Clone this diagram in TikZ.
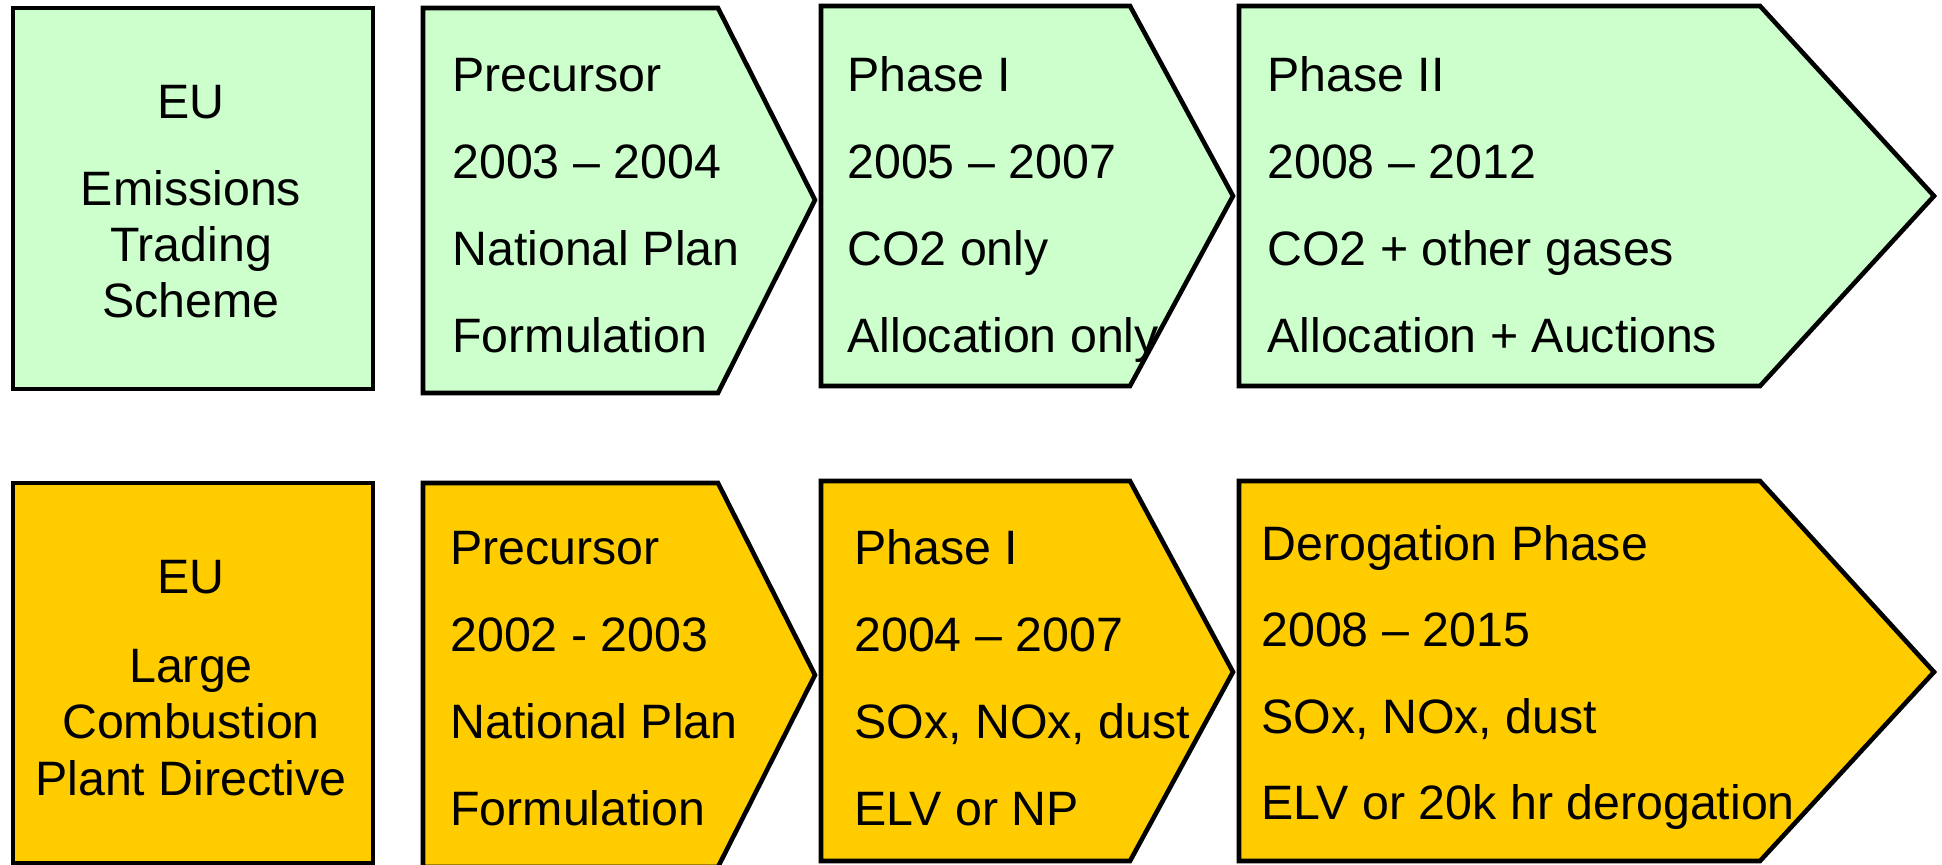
\documentclass[tikz,border=0pt]{standalone}
\usepackage{fontspec}
\setmainfont{Liberation Sans}
\definecolor{lgreen}{HTML}{CCFFCC}
\definecolor{gold}{HTML}{FFCC00}
\tikzset{
  shapebox/.style={draw=black, line width=2.3pt, line join=miter},
  txt/.style={inner sep=0pt, font=\fontsize{24.15pt}{28pt}\selectfont},
}
\begin{document}
\begin{tikzpicture}[x=0.5pt,y=-0.5pt]
\useasboundingbox (0,0) rectangle (1942,865);
% ---------- top row ----------
\draw[shapebox, fill=lgreen] (13,8) rectangle (373,389);
\draw[shapebox, fill=lgreen] (423,8) -- (718,8) -- (815,200) -- (718,393) -- (423,393) -- cycle;
\draw[shapebox, fill=lgreen] (821,6) -- (1130,6) -- (1233,196) -- (1130,386) -- (821,386) -- cycle;
\draw[shapebox, fill=lgreen] (1239,6) -- (1760,6) -- (1934,196) -- (1760,386) -- (1239,386) -- cycle;
% ---------- bottom row ----------
\draw[shapebox, fill=gold] (13,483) rectangle (373,863);
\draw[shapebox, fill=gold] (423,483) -- (718,483) -- (815,675) -- (718,867) -- (423,867) -- cycle;
\draw[shapebox, fill=gold] (821,481) -- (1130,481) -- (1233,672) -- (1130,861) -- (821,861) -- cycle;
\draw[shapebox, fill=gold] (1239,481) -- (1760,481) -- (1934,672) -- (1760,861) -- (1239,861) -- cycle;
% ---------- top texts ----------
\node[txt, anchor=base] (ta0) at (191,119) {EU};
\foreach \t [count=\i from 1] in {Emissions, Trading, Scheme}
  \node[txt, anchor=base] (ta\i) at (191,{206+56*(\i-1)}) {\t};
\foreach \t [count=\i from 0] in {Precursor, 2003 – 2004, National Plan, Formulation}
  \node[txt, anchor=base west] (tb\i) at (452,{92+87*\i}) {\t};
\foreach \t [count=\i from 0] in {Phase I, 2005 – 2007, CO2 only, Allocation only}
  \node[txt, anchor=base west] (tc\i) at (847,{92+87*\i}) {\t};
\foreach \t [count=\i from 0] in {Phase II, 2008 – 2012, CO2 + other gases, Allocation + Auctions}
  \node[txt, anchor=base west] (td\i) at (1267,{92+87*\i}) {\t};
% ---------- bottom texts ----------
\node[txt, anchor=base] (ba0) at (191,593) {EU};
\foreach \t [count=\i from 1] in {Large, Combustion, Plant Directive}
  \node[txt, anchor=base] (ba\i) at (191,{682+56.5*(\i-1)}) {\t};
\foreach \t [count=\i from 0] in {Precursor, 2002 - 2003, National Plan, Formulation}
  \node[txt, anchor=base west] (bb\i) at (450,{564+87*\i}) {\t};
\foreach \t [count=\i from 0] in {Phase I, 2004 – 2007, {SOx, NOx, dust}, ELV or NP}
  \node[txt, anchor=base west] (bc\i) at (854,{564+87*\i}) {\t};
\foreach \t [count=\i from 0] in {Derogation Phase, 2008 – 2015, {SOx, NOx, dust}, ELV or 20k hr derogation}
  \node[txt, anchor=base west] (bd\i) at (1261,{560+86.5*\i}) {\t};
\end{tikzpicture}
\end{document}
